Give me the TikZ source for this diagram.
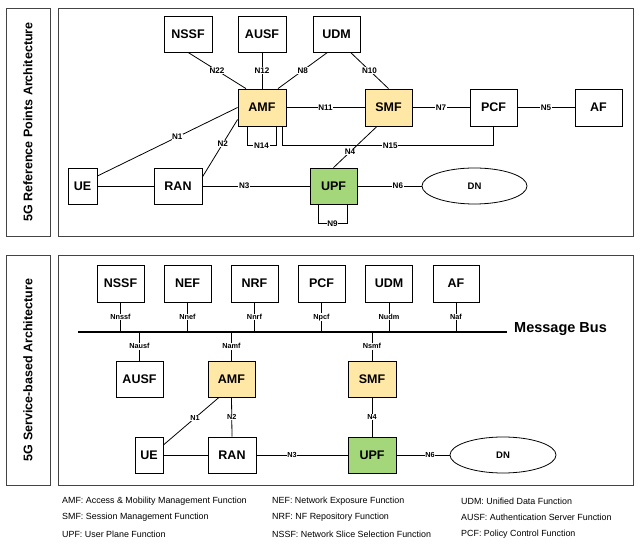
\documentclass[tikz,border=0pt]{standalone}
\usepackage{fontspec}
\setmainfont{Liberation Sans}
\usetikzlibrary{calc,shapes.geometric}
\definecolor{amfy}{HTML}{FFE8A6}
\definecolor{upfg}{HTML}{A3D77A}
\definecolor{frame}{HTML}{444444}
\begin{document}
\begin{tikzpicture}[x=1pt,y=-1pt,
  nf/.style={draw=black, line width=0.8pt, fill=white, minimum width=48pt, minimum height=36pt, inner sep=0pt, font=\fontsize{12.5}{14}\selectfont\bfseries},
  yel/.style={nf, fill=amfy},
  grn/.style={nf, fill=upfg},
  dnell/.style={draw=black, line width=0.8pt, ellipse, minimum width=105pt, minimum height=36pt, inner sep=0pt, font=\fontsize{9.5}{11}\selectfont\bfseries},
  lnk/.style={draw=black, line width=0.8pt},
  lbl/.style={fill=white, inner sep=0.6pt, font=\fontsize{8.1}{9}\selectfont\bfseries},
  lblb/.style={fill=white, inner sep=0.6pt, font=\fontsize{7.3}{8}\selectfont\bfseries},
  framebox/.style={draw=frame, line width=0.9pt},
  ttl/.style={rotate=90, font=\fontsize{12.5}{14}\selectfont\bfseries},
  leg/.style={anchor=west, inner sep=0pt, font=\fontsize{8.9}{10}\selectfont}
]
\useasboundingbox[fill=white] (0,0) rectangle (641,545);

% ---------- frames ----------
\draw[framebox] (6,8) rectangle (50,236);
\draw[framebox] (58,8) rectangle (633,236);
\draw[framebox] (6,255) rectangle (50,485);
\draw[framebox] (58,255) rectangle (633,485);
\node[ttl] (t1) at (28,122) {5G Reference Points Architecture};
\node[ttl] (t2) at (28,370) {5G Service-based Architecture};

% ---------- top: reference points ----------
\node[nf] (nssf) at (188,34) {NSSF};
\node[nf] (ausf) at (262,34) {AUSF};
\node[nf, minimum width=47pt] (udm) at (336.5,34) {UDM};
\node[yel, minimum height=37pt] (amf) at (262,107.5) {AMF};
\node[yel, minimum width=47pt, minimum height=37pt] (smf) at (388.5,107.5) {SMF};
\node[nf, minimum width=47pt, minimum height=37pt] (pcf) at (493.5,107.5) {PCF};
\node[nf, minimum width=47pt, minimum height=37pt] (af) at (598.5,107.5) {AF};
\node[nf, minimum width=29pt] (ue) at (82.5,186) {UE};
\node[nf] (ran) at (178,186) {RAN};
\node[grn, minimum width=47pt] (upf) at (333.5,186) {UPF};
\node[dnell] (dn) at (474.5,186) {DN};

\draw[lnk] (nssf.south) -- node[lbl]{N22} ([xshift=-16pt]amf.north);
\draw[lnk] (ausf.south) -- node[lbl]{N12} (amf.north);
\draw[lnk] ([xshift=-9pt]udm.south) -- node[lbl]{N8} ([xshift=16pt]amf.north);
\draw[lnk] ([xshift=14pt]udm.south) -- node[lbl]{N10} (smf.north);
\draw[lnk] (amf.east) -- node[lbl]{N11} (smf.west);
\draw[lnk] (smf.east) -- node[lbl]{N7} (pcf.west);
\draw[lnk] (pcf.east) -- node[lbl]{N5} (af.west);
\draw[lnk] ([yshift=10pt]ue.east) -- node[lbl, pos=0.57]{N1} (amf.west);
\draw[lnk] ([yshift=9pt]ran.east) -- node[lbl, pos=0.58]{N2} ([yshift=-12pt]amf.west);
\draw[lnk] ([xshift=-15pt]amf.south) -- ++(0,19) -- node[lbl]{N14} ++(29,0) -- ++(0,-19);
\draw[lnk] ([xshift=20pt]amf.south) |- node[lbl, pos=0.756]{N15} ([yshift=-19pt]pcf.south) -- (pcf.south);
\draw[lnk] ([xshift=-11.5pt]smf.south) -- node[lbl, pos=0.62]{N4} (upf.north);
\draw[lnk] (ue.east) -- (ran.west);
\draw[lnk] (ran.east) -- node[lbl, pos=0.39]{N3} (upf.west);
\draw[lnk] (upf.east) -- node[lbl, pos=0.63]{N6} (dn.west);
\draw[lnk] ([xshift=-15.5pt]upf.south) -- ++(0,19) -- node[lbl]{N9} ++(29,0) -- ++(0,-19);

% ---------- bottom: service based ----------
\node[nf, minimum width=47pt, minimum height=37pt] (nssfb) at (120.5,283.5) {NSSF};
\node[nf, minimum width=47pt, minimum height=37pt] (nefb) at (187.5,283.5) {NEF};
\node[nf, minimum width=47pt, minimum height=37pt] (nrfb) at (254.5,283.5) {NRF};
\node[nf, minimum width=47pt, minimum height=37pt] (pcfb) at (321.5,283.5) {PCF};
\node[nf, minimum width=47pt, minimum height=37pt] (udmb) at (389,283.5) {UDM};
\node[nf, minimum width=46pt, minimum height=37pt] (afb) at (456,283.5) {AF};

\coordinate (busl) at (78,332);
\coordinate (busr) at (507,332);
\draw[line width=1.7pt] (busl) -- (busr);
\node[anchor=base west, inner sep=0pt, font=\fontsize{14.5}{17}\selectfont\bfseries] (mbus) at ([xshift=7pt, yshift=-0.5pt]busr) {Message Bus};

\node[nf, minimum width=47pt] (ausfb) at (139.5,379) {AUSF};
\node[yel, minimum width=47pt] (amfb) at (231.5,379) {AMF};
\node[yel, minimum width=48pt] (smfb) at (372,379) {SMF};
\node[grn, minimum width=48pt] (upfb) at (372,455) {UPF};
\node[nf, minimum width=28pt] (ueb) at (149,455) {UE};
\node[nf] (ranb) at (232,455) {RAN};
\node[dnell, minimum width=106pt] (dnb) at (503,455) {DN};

\draw[lnk] (nssfb.south) -- node[lblb]{Nnssf} (nssfb.south |- busl);
\draw[lnk] (nefb.south) -- node[lblb]{Nnef} (nefb.south |- busl);
\draw[lnk] (nrfb.south) -- node[lblb]{Nnrf} (nrfb.south |- busl);
\draw[lnk] (pcfb.south) -- node[lblb]{Npcf} (pcfb.south |- busl);
\draw[lnk] (udmb.south) -- node[lblb]{Nudm} (udmb.south |- busl);
\draw[lnk] (afb.south) -- node[lblb]{Naf} (afb.south |- busl);
\draw[lnk] (ausfb.north |- busl) -- node[lblb]{Nausf} (ausfb.north);
\draw[lnk] (amfb.north |- busl) -- node[lblb]{Namf} (amfb.north);
\draw[lnk] (smfb.north |- busl) -- node[lblb]{Nsmf} (smfb.north);

\draw[lnk] ([yshift=10pt]ueb.east) -- node[lblb, pos=0.57]{N1} ([xshift=-12.5pt]amfb.south);
\draw[lnk] (amfb.south) -- node[lblb]{N2} (ranb.north);
\draw[lnk] (ueb.east) -- (ranb.west);
\draw[lnk] (ranb.east) -- node[lblb, pos=0.39]{N3} (upfb.west);
\draw[lnk] (smfb.south) -- node[lblb]{N4} (upfb.north);
\draw[lnk] (upfb.east) -- node[lblb, pos=0.63]{N6} (dnb.west);

% ---------- legend ----------
\node[leg] (l1) at (62,501) {AMF: Access \& Mobility Management Function};
\node[leg] (l2) at (62,517.5) {SMF: Session Management Function};
\node[leg] (l3) at (62,534) {UPF: User Plane Function};
\node[leg] (l4) at (272,501) {NEF: Network Exposure Function};
\node[leg] (l5) at (272,517.5) {NRF: NF Repository Function};
\node[leg] (l6) at (272,534) {NSSF: Network Slice Selection Function};
\node[leg] (l7) at (461,501) {UDM: Unified Data Function};
\node[leg] (l8) at (461,517.5) {AUSF: Authentication Server Function};
\node[leg] (l9) at (461,534) {PCF: Policy Control Function};
\end{tikzpicture}
\end{document}
